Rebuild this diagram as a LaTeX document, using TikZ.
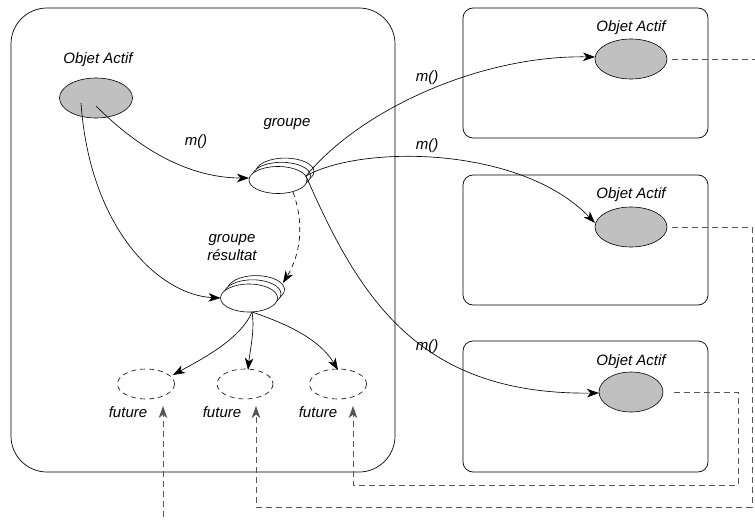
\documentclass[tikz,border=0pt]{standalone}
\usepackage{fontspec}
\setmainfont{Liberation Sans}
\usetikzlibrary{arrows.meta,calc}
\definecolor{oafill}{HTML}{C0C0C0}
\definecolor{dgray}{HTML}{555555}
\begin{document}
\begin{tikzpicture}[x=1pt,y=-1pt,
  lbl/.style={font=\fontsize{15}{18}\selectfont\itshape, inner sep=0pt},
  box/.style={draw, line width=0.7pt},
  tip/.style={-{Stealth[length=12pt,width=8.5pt,inset=3.5pt]}},
  arr/.style={tip, line width=0.65pt},
  darr/.style={tip, line width=0.65pt, dash pattern=on 5pt off 4pt},
  dline/.style={draw=dgray, line width=0.8pt, dash pattern=on 6pt off 4pt},
  fut/.style={draw, line width=0.6pt, dash pattern=on 5pt off 4pt}
]
\useasboundingbox (0,0) rectangle (755,522);
% boxes
\draw[box, rounded corners=36pt] (11,8) rectangle (395,472);
\draw[box, rounded corners=10pt] (463,8) rectangle (708,138);
\draw[box, rounded corners=10pt] (463,175) rectangle (708,305);
\draw[box, rounded corners=10pt] (463,341) rectangle (708,472);

% active objects
\draw[fill=oafill, line width=0.6pt] (96,98) ellipse [x radius=36.5, y radius=20];
\coordinate (oa0) at (96,98);
\node[lbl] (oa0l) at (98,60) {Objet Actif};
\draw[fill=oafill, line width=0.6pt] (631,59) ellipse [x radius=36, y radius=20];
\coordinate (oa1) at (631,59);
\node[lbl] (oa1l) at (631,28) {Objet Actif};
\draw[fill=oafill, line width=0.6pt] (631,227) ellipse [x radius=36, y radius=20];
\coordinate (oa2) at (631,227);
\node[lbl] (oa2l) at (631,195) {Objet Actif};
\draw[fill=oafill, line width=0.6pt] (631,392) ellipse [x radius=32, y radius=20];
\coordinate (oa3) at (631,392);
\node[lbl] (oa3l) at (631,362) {Objet Actif};

% groupe stack
\foreach \d in {7,3.5,0}{
  \draw[fill=white, line width=0.6pt] (278+\d,180-1.2*\d) ellipse [x radius=29, y radius=13.5];
}
\coordinate (g) at (278,180);
\node[lbl] (gl) at (287,124) {groupe};
% resultat stack
\foreach \d in {7,3.5,0}{
  \draw[fill=white, line width=0.6pt] (249+\d,298-1.2*\d) ellipse [x radius=28.5, y radius=14];
}
\coordinate (r) at (249,298);
\node[lbl, align=center] (rl) at (232,248) {groupe\\résultat};

% futures
\draw[fut] (146,384) ellipse [x radius=28.5, y radius=15];
\draw[fut] (245,384) ellipse [x radius=28, y radius=15];
\draw[fut] (338,384) ellipse [x radius=28.5, y radius=15];
\coordinate (f1) at (146,384);
\coordinate (f2) at (245,384);
\coordinate (f3) at (338,384);
\node[lbl] (f1l) at (128,412) {future};
\node[lbl] (f2l) at (222,412) {future};
\node[lbl] (f3l) at (318,412) {future};

% m() labels
\node[lbl] (m0) at (196,142) {m()};
\node[lbl] (m1) at (427,78) {m()};
\node[lbl] (m2) at (427,146) {m()};
\node[lbl] (m3) at (427,347) {m()};

% connectors in left box
\draw[arr] ($(oa0)+(0,8)$) .. controls (150,160) and (200,178) .. ($(g)+(-29,-2)$);
\draw[arr] ($(oa0)+(-15,5)$) .. controls (90,230) and (160,295) .. ($(r)+(-28.5,0)$);
\draw[darr] ($(g)+(15,12)$) .. controls (305,225) and (300,255) .. ($(r)+(34,-15)$);
\draw[arr] ($(r)+(3,14)$) .. controls (240,340) and (200,360) .. ($(f1)+(27,-9)$);
\draw[arr] ($(r)+(3,14)$) .. controls (255,330) and (250,350) .. ($(f2)+(3,-14)$);
\draw[arr] ($(r)+(3,14)$) .. controls (290,325) and (320,340) .. ($(f3)+(0,-14)$);

% m() calls to remote objects
\draw[arr] ($(g)+(28,-4)$) .. controls (360,110) and (480,55) .. ($(oa1)+(-36,-2)$);
\draw[arr] ($(g)+(28,-4)$) .. controls (360,145) and (520,145) .. ($(oa2)+(-36,-4)$);
\draw[arr] ($(g)+(28,-4)$) .. controls (360,300) and (420,395) .. ($(oa3)+(-32,1)$);

% dashed future links
\coordinate (e0) at (163,517);
\draw[dline, tip] (e0) -- (163,406);
\coordinate (d1) at (755,59);
\draw[dline] ($(oa1)+(41,0)$) -- (d1);
\coordinate (c2a) at (752,227);
\coordinate (c2b) at (752,507);
\coordinate (c2c) at (256,507);
\draw[dline, tip] ($(oa2)+(41,0)$) -- (c2a) -- (c2b) -- (c2c) -- (256,406);
\coordinate (c3a) at (738,392);
\coordinate (c3b) at (738,485);
\coordinate (c3c) at (353,485);
\draw[dline, tip] ($(oa3)+(43,0)$) -- (c3a) -- (c3b) -- (c3c) -- (353,406);
\end{tikzpicture}
\end{document}
